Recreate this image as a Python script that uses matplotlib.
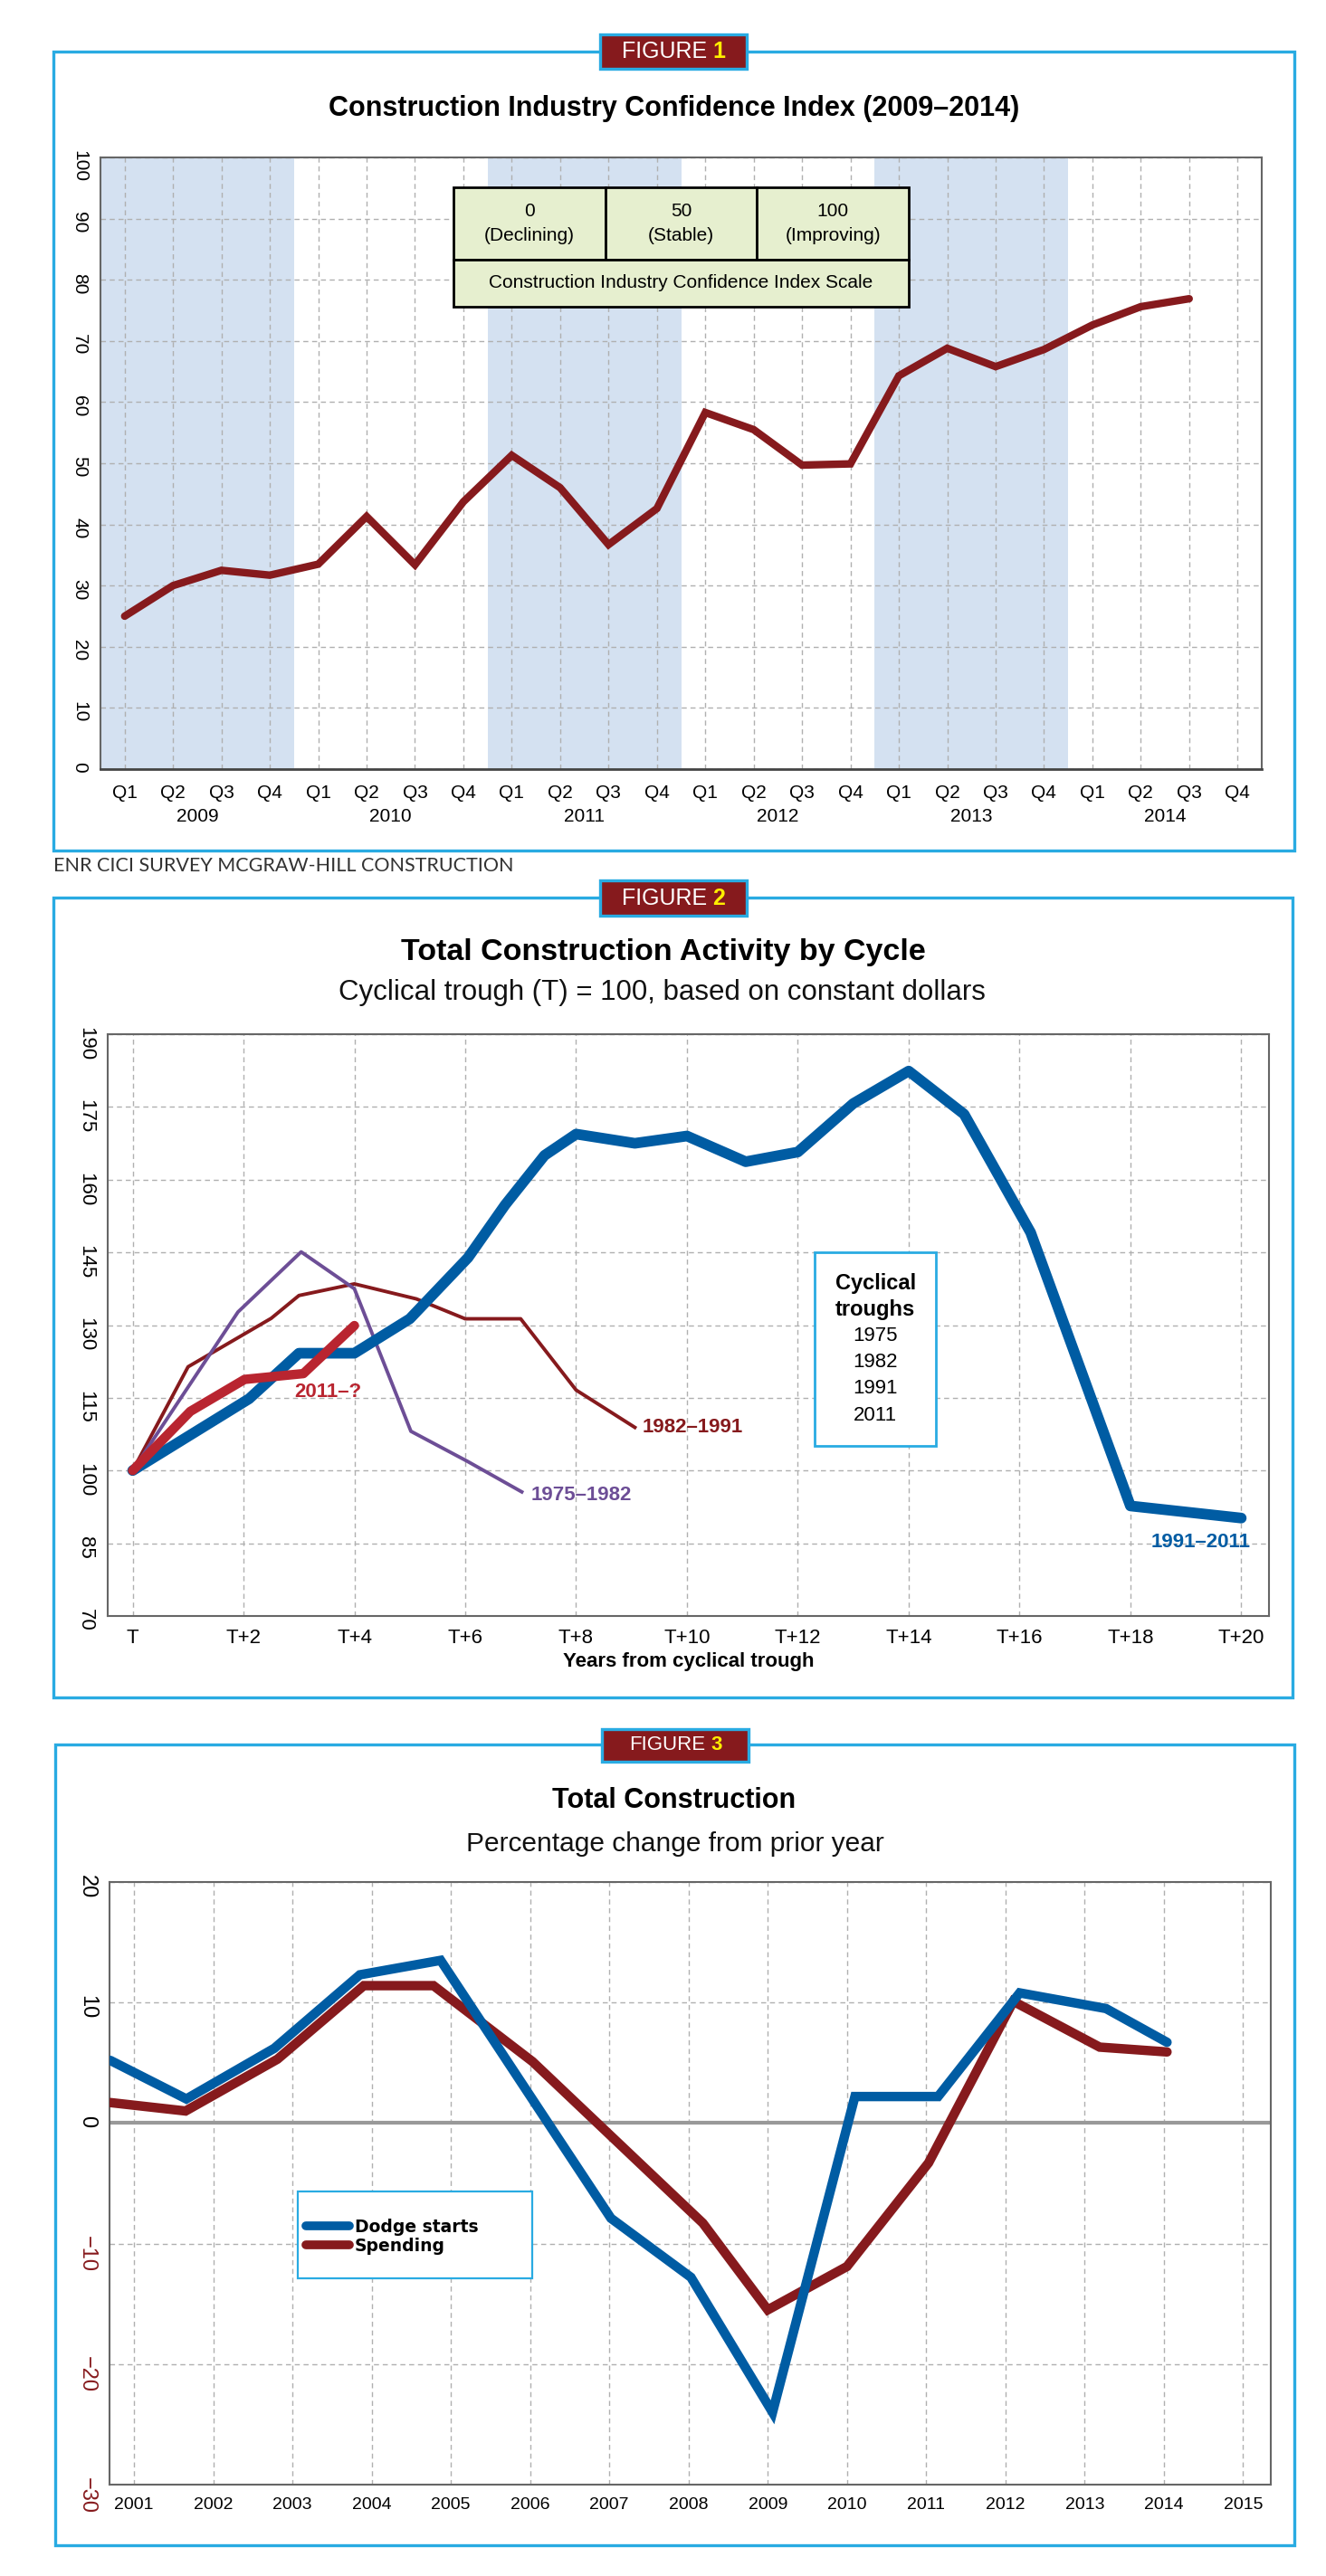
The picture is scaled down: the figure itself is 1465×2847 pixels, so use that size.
import matplotlib
matplotlib.use("Agg")
import matplotlib.pyplot as plt
from matplotlib.patches import Rectangle

# ---- figure 1 data: CICI by quarter
quarters = ["Q1", "Q2", "Q3", "Q4"] * 6
years1 = ["2009", "2010", "2011", "2012", "2013", "2014"]
shaded = ["2009", "2011", "2013"]
cici = [25, 30, 32.5, 31.7, 33.5, 41.3, 33.4, 43.7, 51.3, 46, 36.7, 42.6,
        58.3, 55.5, 49.7, 49.9, 64.3, 68.8, 65.8, 68.6, 72.6, 75.6, 76.9]
scale_top = ["0\n(Declining)", "50\n(Stable)", "100\n(Improving)"]
scale_name = "Construction Industry Confidence Index Scale"

# ---- figure 2 data: activity by cycle (years from trough, index)
t_1991 = [0, 2.1, 3, 4, 5, 6.05, 6.72, 7.43, 8, 9.06, 10, 11.06, 12, 13, 14, 15, 16.2, 18, 20]
v_1991 = [100, 114.8, 124.2, 124.2, 131.3, 143.9, 154.8, 165, 169.4, 167.5, 169, 163.7,
          165.7, 175.7, 182.4, 173.5, 149.1, 92.7, 90.2]
t_1982 = [0, 1, 2.5, 3, 4, 5.12, 6, 7, 8, 9.06]
v_1982 = [100, 121.4, 131.4, 136.1, 138.5, 135.4, 131.3, 131.3, 116.6, 108.9]
t_1975 = [0, 1.9, 3.04, 4, 5.02, 6.04, 7.02]
v_1975 = [100, 132.7, 145.1, 137.5, 108.1, 101.9, 95.6]
t_2011 = [0, 1.04, 2.02, 3.08, 4]
v_2011 = [100, 112.2, 118.8, 120.0, 129.9]
t_ticks = list(range(0, 21, 2))
t_labels = ["T"] + ["T+%d" % t for t in t_ticks[1:]]
troughs = ["1975", "1982", "1991", "2011"]

# ---- figure 3 data: percentage change from prior year
dodge_x = [2000.7, 2001.66, 2002.77, 2003.85, 2004.87, 2007.02, 2008.03, 2009.06,
           2010.1, 2011.15, 2012.18, 2013.27, 2014.04]
dodge_y = [5.2, 2.0, 6.2, 12.3, 13.5, -7.9, -12.8, -24.0, 2.2, 2.2, 10.8, 9.5, 6.7]
spend_x = [2000.7, 2001.65, 2002.81, 2003.9, 2004.78, 2006.03, 2008.18, 2009.0,
           2010.0, 2011.03, 2012.1, 2013.19, 2014.04]
spend_y = [1.7, 1.0, 5.3, 11.4, 11.4, 5.1, -8.3, -15.5, -11.9, -3.3, 10.1, 6.3, 5.9]
years3 = list(range(2001, 2016))

W, H = 1465, 2847
SANS = ["Liberation Sans", "DejaVu Sans"]
CYAN = "#29abe2"
MAROON = "#861a1d"
BLUE = "#005ca3"
RED = "#b92530"
PURPLE = "#6d4e96"
GRID = "#b0b0b0"

plt.rcParams["font.family"] = SANS


def rect(l, t, r, b):
    return [l / W, 1 - b / H, (r - l) / W, (b - t) / H]


def fpos(x, y):
    return x / W, 1 - y / H


fig = plt.figure(figsize=(W / 100, H / 100), dpi=100)


def panel(l, t, r, b):
    fig.patches.append(Rectangle((l / W, 1 - b / H), (r - l) / W, (b - t) / H,
                                 transform=fig.transFigure, fill=False,
                                 edgecolor=CYAN, lw=2.4))


def badge(l, t, r, b, num, size, split):
    fig.patches.append(Rectangle((l / W, 1 - b / H), (r - l) / W, (b - t) / H,
                                 transform=fig.transFigure, facecolor=MAROON,
                                 edgecolor=CYAN, lw=2.4, zorder=5))
    yc = (t + b) / 2
    fig.text(*fpos(split - 3, yc), "FIGURE", color="white", fontsize=size,
             ha="right", va="center", zorder=6)
    fig.text(*fpos(split + 3, yc), num, color="#ffee00", fontsize=size,
             weight="bold", ha="left", va="center", zorder=6)


def style_axes(ax, ysize):
    for s in ax.spines.values():
        s.set_color("#666666")
        s.set_linewidth(1.5)
    ax.tick_params(length=0, labelsize=ysize)
    ax.tick_params(axis="y", labelrotation=-90, pad=10)
    ax.grid(True, color=GRID, lw=1, linestyle=(0, (4, 3)))
    ax.set_axisbelow(True)


# ================= FIGURE 1 =================
panel(59, 57, 1430, 940)
badge(663, 38, 825, 76, "1", 18, 784)
fig.text(*fpos(745, 120), "Construction Industry Confidence Index (2009\u20132014)",
         fontsize=22, weight="bold", ha="center", va="center")

ax1 = fig.add_axes(rect(111, 174, 1394, 850))
x1 = list(range(len(quarters)))
for i, yr in enumerate(years1):
    if yr in shaded:
        ax1.axvspan(4 * i - 0.5, 4 * i + 3.5, color="#d4e1f1", lw=0, zorder=0)
ax1.plot(x1[:len(cici)], cici, color=MAROON, lw=6, solid_capstyle="round",
         solid_joinstyle="miter", zorder=3)
ax1.set_xlim(-0.5, 23.5)
ax1.set_ylim(0, 100)
ax1.set_yticks(range(0, 101, 10))
ax1.set_xticks(x1)
ax1.set_xticklabels(quarters)
style_axes(ax1, 15)
ax1.tick_params(axis="x", pad=12)
ax1.spines["bottom"].set_color("#444444")
ax1.spines["bottom"].set_linewidth(2)
for i, yr in enumerate(years1):
    ax1.text(4 * i + 1.5, -0.078, yr, transform=ax1.get_xaxis_transform(),
             ha="center", va="center", fontsize=15)

t_top = ax1.table(cellText=[scale_top], cellLoc="center",
                  bbox=[0.304, 0.833, 0.392, 0.118])
t_bot = ax1.table(cellText=[[scale_name]], cellLoc="center",
                  bbox=[0.304, 0.756, 0.392, 0.077])
for tb in (t_top, t_bot):
    tb.auto_set_font_size(False)
    for cell in tb.get_celld().values():
        cell.set_facecolor("#e6efcf")
        cell.set_edgecolor("black")
        cell.set_linewidth(2)
        cell.get_text().set_fontsize(15)
        cell.get_text().set_linespacing(1.5)
    tb.set_zorder(4)

fig.text(*fpos(59, 957), "ENR CICI SURVEY MCGRAW-HILL CONSTRUCTION",
         family=["Lato", "Open Sans", "DejaVu Sans"],
         fontsize=15.5, ha="left", va="center", color="#333333")

# ================= FIGURE 2 =================
panel(59, 992, 1428, 1876)
badge(663, 973, 825, 1012, "2", 18, 784)
fig.text(*fpos(733, 1053), "Total Construction Activity by Cycle",
         fontsize=24.5, weight="bold", ha="center", va="center")
fig.text(*fpos(731, 1097), "Cyclical trough (T) = 100, based on constant dollars",
         fontsize=22.5, ha="center", va="center", color="#111111")

ax2 = fig.add_axes(rect(119, 1143, 1402, 1786))
ax2.plot(t_1982, v_1982, color=MAROON, lw=2.8, zorder=3)
ax2.plot(t_1975, v_1975, color=PURPLE, lw=2.8, zorder=3)
ax2.plot(t_1991, v_1991, color=BLUE, lw=8.5, solid_capstyle="round", zorder=4)
ax2.plot(t_2011, v_2011, color=RED, lw=7.5, solid_capstyle="round", zorder=5)
ax2.set_xlim(-0.45, 20.5)
ax2.set_ylim(70, 190)
ax2.set_yticks(range(70, 191, 15))
ax2.set_xticks(t_ticks)
ax2.set_xticklabels(t_labels)
style_axes(ax2, 16)
ax2.tick_params(axis="x", pad=10)
ax2.set_xlabel("Years from cyclical trough", fontsize=16, weight="bold", labelpad=4)

ax2.text(9.2, 108.9, "1982\u20131991", color=MAROON, fontsize=16, weight="bold",
         ha="left", va="center")
ax2.text(7.18, 95.0, "1975\u20131982", color=PURPLE, fontsize=16, weight="bold",
         ha="left", va="center")
ax2.text(3.52, 116.1, "2011\u2013?", color=RED, fontsize=16, weight="bold",
         ha="center", va="center")
ax2.text(19.27, 85.3, "1991\u20132011", color=BLUE, fontsize=16, weight="bold",
         ha="center", va="center")

ax2.add_patch(Rectangle((0.609, 0.292), 0.1044, 0.333, transform=ax2.transAxes,
                        facecolor="white", edgecolor=CYAN, lw=2, zorder=6))
ax2.text(0.661, 0.572, "Cyclical", transform=ax2.transAxes, fontsize=17,
         weight="bold", ha="center", va="center", zorder=7)
ax2.text(0.661, 0.526, "troughs", transform=ax2.transAxes, fontsize=17,
         weight="bold", ha="center", va="center", zorder=7)
for k, yv in enumerate(troughs):
    ax2.text(0.661, 0.481 - 0.0453 * k, yv, transform=ax2.transAxes, fontsize=16,
             ha="center", va="center", zorder=7)

# ================= FIGURE 3 =================
panel(61, 1928, 1430, 2813)
badge(665, 1911, 827, 1947, "3", 16, 782)
fig.text(*fpos(745, 1990), "Total Construction", fontsize=22, weight="bold",
         ha="center", va="center")
fig.text(*fpos(746, 2038), "Percentage change from prior year",
         fontsize=21.5, ha="center", va="center", color="#111111")

ax3 = fig.add_axes(rect(121, 2080, 1404, 2746))
ax3.axhline(0, color="#999999", lw=3, zorder=2)
ax3.plot(dodge_x, dodge_y, color=BLUE, lw=7.5, solid_capstyle="round",
         solid_joinstyle="miter", zorder=4, label="Dodge starts")
ax3.plot(spend_x, spend_y, color=MAROON, lw=7.5, solid_capstyle="round",
         solid_joinstyle="miter", zorder=3, label="Spending")
ax3.set_xlim(2000.69, 2015.35)
ax3.set_ylim(-30, 20)
ax3.set_yticks(range(-30, 21, 10))
ax3.set_yticklabels([("\u2212%d" % -v) if v < 0 else str(v) for v in range(-30, 21, 10)])
ax3.set_xticks(years3)
style_axes(ax3, 17)
ax3.tick_params(axis="x", pad=10, labelsize=14)
for lab, v in zip(ax3.get_yticklabels(), range(-30, 21, 10)):
    if v < 0:
        lab.set_color(MAROON)

ax3.add_patch(Rectangle((0.162, 0.342), 0.202, 0.1445, transform=ax3.transAxes,
                        facecolor="white", edgecolor=CYAN, lw=1.6, zorder=6))
leg = ax3.legend(loc="center left", bbox_to_anchor=(0.163, 0.412),
                 borderaxespad=0, frameon=False, handlelength=2.6,
                 handletextpad=0.3, labelspacing=0.1,
                 prop={"family": "DejaVu Sans", "weight": "bold", "size": 13.5})
leg.set_zorder(7)
for ln in leg.get_lines():
    ln.set_linewidth(7)

fig.savefig("out.png", dpi=100, facecolor="white")
